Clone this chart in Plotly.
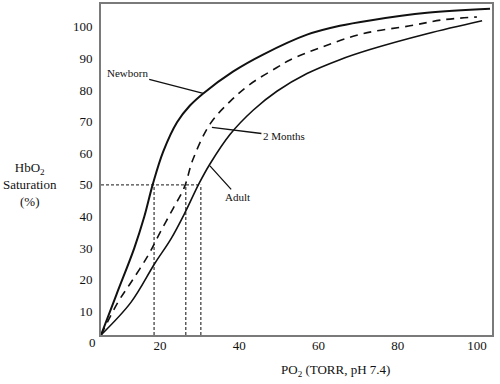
import plotly.graph_objects as go

# ---- data (PO2 in torr, HbO2 saturation in %) ----
newborn_x = [5.1, 9.0, 13.5, 16.0, 18.2, 20.8, 24.3, 27.5, 30.9, 38.4, 46.0, 57.1, 65.4, 73.0, 87.4, 103.3]
newborn_y = [2.5, 15.3, 30.0, 39.8, 50.3, 60.5, 69.8, 75.0, 78.9, 85.8, 91.2, 97.5, 100.3, 102.0, 104.4, 105.7]

months2_x = [5.1, 9.4, 12.7, 17.0, 20.0, 23.3, 26.1, 28.3, 32.6, 37.7, 42.7, 49.5, 52.8, 61.1, 71.2, 83.1, 91.4, 100.0]
months2_y = [2.5, 12.9, 19.2, 27.7, 34.9, 42.5, 49.1, 58.0, 69.2, 76.4, 81.8, 87.1, 89.5, 93.7, 97.8, 100.3, 102.2, 103.1]

adult_x = [5.1, 12.7, 18.7, 22.8, 26.3, 29.8, 32.6, 37.7, 43.5, 49.5, 57.1, 65.4, 73.0, 87.4, 101.3]
adult_y = [2.5, 12.9, 25.2, 33.0, 41.2, 50.3, 56.6, 66.0, 73.6, 79.6, 85.2, 89.6, 92.8, 97.8, 101.9]

p50_values = [18.5, 26.5, 30.3]
half_sat = 50

x_ticks = [20, 40, 60, 80, 100]
y_ticks = [10, 20, 30, 40, 50, 60, 70, 80, 90, 100]

x_range = [5.1, 103.8]
y_range = [2.5, 107.2]

FONT = "Liberation Serif, Times New Roman, serif"
INK = "#111111"

fig = go.Figure()

# reference dotted lines at 50% saturation
fig.add_trace(go.Scatter(x=[x_range[0], max(p50_values)], y=[half_sat, half_sat], mode="lines",
                         line=dict(color="#444", width=1.3, dash="3px,2px"), hoverinfo="skip"))
for p in p50_values:
    fig.add_trace(go.Scatter(x=[p, p], y=[y_range[0], half_sat], mode="lines",
                             line=dict(color="#444", width=1.3, dash="3px,2px"), hoverinfo="skip"))

fig.add_trace(go.Scatter(x=newborn_x, y=newborn_y, mode="lines",
                         line=dict(color=INK, width=2, shape="spline", smoothing=1), name="Newborn"))
fig.add_trace(go.Scatter(x=months2_x, y=months2_y, mode="lines",
                         line=dict(color=INK, width=1.6, dash="8px,6px", shape="spline", smoothing=1), name="2 Months"))
fig.add_trace(go.Scatter(x=adult_x, y=adult_y, mode="lines",
                         line=dict(color=INK, width=1.6, shape="spline", smoothing=1), name="Adult"))

ann_font = dict(family=FONT, size=11, color=INK)
annotations = [
    dict(x=30.9, y=78.9, xref="x", yref="y", text="Newborn", showarrow=True, arrowhead=0,
         arrowwidth=1.3, arrowcolor=INK, ax=-76, ay=-20, font=ann_font, standoff=0),
    dict(x=33.1, y=68.2, xref="x", yref="y", text="2 Months", showarrow=True, arrowhead=0,
         arrowwidth=1.3, arrowcolor=INK, ax=72, ay=9, font=ann_font, standoff=0),
    dict(x=32.6, y=56.0, xref="x", yref="y", text="Adult", showarrow=True, arrowhead=0,
         arrowwidth=1.3, arrowcolor=INK, ax=28, ay=31, font=ann_font, standoff=0),
    # corner zero
    dict(x=-0.023, y=-0.024, xref="paper", yref="paper", text="0", showarrow=False,
         font=dict(family=FONT, size=13, color=INK), xanchor="center", yanchor="middle"),
    # axis titles
    dict(x=-0.182, y=0.455, xref="paper", yref="paper",
         text="HbO<sub>2</sub><br>Saturation<br>(%)", showarrow=False, align="center",
         font=dict(family=FONT, size=13, color=INK), xanchor="center", yanchor="middle"),
    dict(x=0.6, y=-0.108, xref="paper", yref="paper",
         text="PO<sub>2</sub> (TORR, pH 7.4)", showarrow=False,
         font=dict(family=FONT, size=13, color=INK), xanchor="center", yanchor="middle"),
]

axis_common = dict(showgrid=False, zeroline=False, showline=True, mirror=True,
                   linecolor="#7a7a7a", linewidth=2, ticks="",
                   tickfont=dict(family=FONT, size=13, color=INK))

fig.update_layout(
    width=500, height=384,
    margin=dict(l=101, r=8, t=2, b=49),
    paper_bgcolor="white", plot_bgcolor="white",
    showlegend=False,
    xaxis=dict(range=x_range, tickvals=x_ticks, ticklabelstandoff=-3, **axis_common),
    yaxis=dict(range=y_range, tickvals=y_ticks, ticklabelstandoff=4, **axis_common),
    annotations=annotations,
)

fig.write_html("out.html", config={"displayModeBar": False},
               post_script="document.body.style.margin='0';document.body.style.overflow='hidden';")
